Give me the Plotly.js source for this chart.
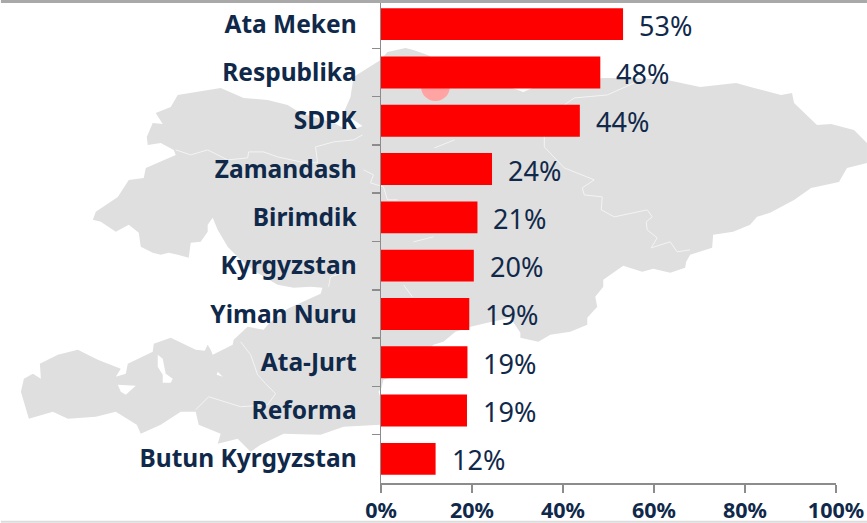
<!DOCTYPE html>
<html><head><meta charset="utf-8">
<script src="https://cdn.plot.ly/plotly-3.0.1.min.js"></script>
<style>html,body{margin:0;padding:0;background:#fff;overflow:hidden}#c{width:867px;height:523px}</style>
</head><body><div id="c"></div>
<script>
const parties = ["Ata Meken","Respublika","SDPK","Zamandash","Birimdik","Kyrgyzstan","Yiman Nuru","Ata-Jurt","Reforma","Butun Kyrgyzstan"];
const shares = [53.2,48.2,43.7,24.4,21.2,20.4,19.4,19.0,18.9,12.0];
const shareLabels = ["53%","48%","44%","24%","21%","20%","19%","19%","19%","12%"];
const xTicks = [0,20,40,60,80,100];

// Decorative background map, traced in page pixels
const mapOutline = [[92,220],[95,212],[117,197],[128,180],[143,178],[145,168],[175,155],[173,150],[160,143],[147,145],[146,137],[152,123],[162,124],[155,113],[170,107],[177,95],[220,88],[243,98],[267,100],[287,105],[300,113],[333,123],[347,130],[357,128],[362,126],[343,113],[350,97],[353,77],[380,60],[387,52],[405,48],[413,50],[427,55],[440,62],[500,85],[512,88],[523,92],[532,88],[590,85],[601,78],[634,78],[667,80],[700,87],[736,83],[754,88],[781,95],[792,93],[794,103],[817,125],[831,124],[854,130],[867,143],[867,163],[847,168],[839,182],[811,188],[794,200],[770,213],[757,217],[750,225],[733,232],[713,235],[712,248],[690,255],[686,262],[685,268],[670,273],[653,269],[642,272],[623,266],[603,280],[603,287],[595,297],[597,307],[587,318],[587,325],[570,332],[550,335],[538,342],[520,338],[520,333],[510,318],[487,323],[470,327],[455,332],[443,342],[433,345],[400,375],[383,380],[381,388],[378,392],[380,398],[380,425],[343,427],[320,435],[283,434],[260,445],[250,452],[237,439],[217,444],[220,434],[198,425],[195,412],[180,412],[160,425],[140,434],[136,425],[115,412],[95,417],[67,419],[52,412],[28,419],[20,392],[23,379],[32,374],[40,379],[39,364],[57,355],[77,350],[97,360],[120,369],[115,377],[125,374],[127,364],[152,352],[153,344],[170,338],[195,350],[204,351],[207,345],[210,350],[212,355],[232,345],[233,340],[247,327],[263,330],[268,324],[287,309],[320,294],[322,288],[310,287],[293,288],[277,285],[265,278],[255,272],[240,260],[227,247],[217,230],[212,218],[207,225],[207,232],[200,242],[190,243],[188,258],[177,255],[168,253],[160,255],[152,253],[140,247],[138,233],[128,225],[115,232],[100,222]];
const lakes = [
 [[157,355],[162,359],[165,374],[172,379],[170,383],[162,383],[162,375],[157,367]],
 [[117,385],[135,386],[125,395],[120,392]],
 [[217,372],[222,377],[216,375]]
];
const borders = [
 [[175,150],[190,155],[207,150],[227,160],[247,158],[248,152],[263,152],[277,157],[300,162],[317,163],[315,147],[333,142],[353,140],[362,135]],
 [[363,170],[373,175],[370,183],[383,187],[387,200],[397,200]],
 [[634,83],[607,95],[574,98],[564,105],[544,137],[544,147],[564,168],[594,180],[582,188],[584,195],[602,197],[601,210],[614,217],[647,210],[652,217],[646,222],[647,230],[657,238],[651,248],[670,242],[677,252],[690,250]],
 [[195,410],[208,397],[240,407],[267,405],[275,394],[265,384],[257,375],[250,355],[240,342]],
 [[403,285],[412,297]],
 [[413,242],[433,237]],
 [[434,148],[454,140]],
 [[357,262],[345,272],[330,277],[328,287]]
];

const PLOT = {l:380.5, r:836, t:0, b:483.3, W:867, H:523};
const px = x => (x-PLOT.l)/(PLOT.r-PLOT.l);
const py = y => (PLOT.b-y)/(PLOT.b-PLOT.t);
const toPath = (pts,close) => pts.map((p,i)=>(i?'L':'M')+px(p[0]).toFixed(5)+','+py(p[1]).toFixed(5)).join('')+(close?'Z':'');
const paperShape = o => Object.assign({xref:'paper',yref:'paper'},o);

const navy = '#10294a';
const shapes = [
  paperShape({type:'path',path:toPath(mapOutline,true),fillcolor:'#dfdfdf',line:{width:0},layer:'below'}),
  ...lakes.map(l=>paperShape({type:'path',path:toPath(l,true),fillcolor:'#ffffff',line:{width:0},layer:'below'})),
  ...borders.map(b=>paperShape({type:'path',path:toPath(b,false),line:{color:'#f4f4f4',width:1},layer:'below'})),
  paperShape({type:'circle',x0:px(420.5),x1:px(449.5),y0:py(72),y1:py(101),fillcolor:'#ffa3a3',line:{width:0},layer:'below'}),
  paperShape({type:'rect',x0:px(0),x1:px(867),y0:py(0),y1:py(3),fillcolor:'#a9a9a9',line:{width:0},layer:'above'}),
  paperShape({type:'rect',x0:px(0),x1:px(867),y0:py(521),y1:py(523),fillcolor:'#dcdcdc',line:{width:0},layer:'below'})
];

const annotations = parties.map((p,i)=>({
  x:shares[i], y:p, xref:'x', yref:'y', text:shareLabels[i], showarrow:false,
  xanchor:'left', yanchor:'middle', xshift:14, yshift:-1,
  font:{family:'"Noto Sans",sans-serif',size:27,color:navy}
}));

Plotly.newPlot('c',[{
  type:'bar',orientation:'h',y:parties,x:shares,
  marker:{color:'#ff0000',line:{width:0}},width:0.66,hoverinfo:'skip'
}],{
  width:PLOT.W,height:PLOT.H,showlegend:false,
  paper_bgcolor:'rgba(0,0,0,0)',plot_bgcolor:'rgba(0,0,0,0)',
  margin:{l:PLOT.l,r:PLOT.W-PLOT.r,t:PLOT.t,b:PLOT.H-PLOT.b,pad:0},
  xaxis:{range:[0,100],tickvals:xTicks,ticktext:xTicks.map(v=>v+'%'),showgrid:false,zeroline:false,
    showline:true,linecolor:'#8c8c8c',linewidth:1.5,ticks:'outside',ticklen:8,tickcolor:'#8c8c8c',tickwidth:1.5,
    tickfont:{family:'"Noto Sans",sans-serif',size:21.5,color:navy,weight:700},ticklabelstandoff:0},
  yaxis:{autorange:'reversed',type:'category',showgrid:false,zeroline:false,tickson:'boundaries',
    showline:true,linecolor:'#8c8c8c',linewidth:1.5,ticks:'outside',ticklen:8,tickcolor:'#8c8c8c',tickwidth:1.5,
    tickfont:{family:'"Noto Sans",sans-serif',size:24.5,color:navy,weight:700},ticklabelstandoff:18},
  shapes,annotations
},{displayModeBar:false,staticPlot:true});
</script></body></html>
